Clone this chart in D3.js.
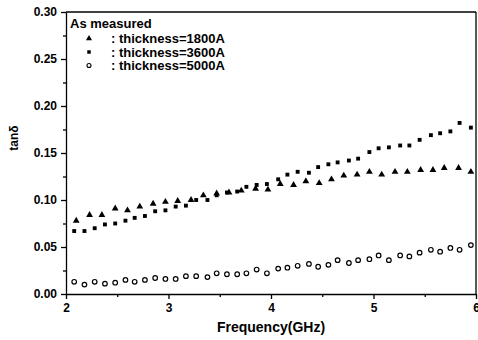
<!DOCTYPE html>
<html>
<head>
<meta charset="UTF-8" />
<style>
  body { margin: 0; background: #fff; }
  svg { font-family: "Liberation Sans", Arial, sans-serif; font-weight: bold; }
  .axis path, .axis line { stroke: #000; stroke-width: 1.3px; }
  .axis text { font-size: 12px; font-weight: bold; fill: #000; }
</style>
</head>
<body>
<svg id="chart" width="478" height="340"></svg>
<script src="https://d3js.org/d3.v7.min.js"></script>
<script>
  // thickness = 1800A (triangles)
  const freq1800 = [2.10, 2.23, 2.35, 2.48, 2.60, 2.72, 2.85, 2.97, 3.09, 3.22, 3.34, 3.47, 3.59, 3.71, 3.85, 3.97,
                    4.09, 4.22, 4.34, 4.47, 4.59, 4.71, 4.84, 4.96, 5.08, 5.21, 5.33, 5.46, 5.58, 5.69, 5.83, 5.95];
  const tan1800 = [0.078, 0.084, 0.084, 0.091, 0.089, 0.093, 0.096, 0.098, 0.099, 0.100, 0.105, 0.107, 0.108, 0.110, 0.112, 0.111,
                   0.117, 0.116, 0.120, 0.118, 0.122, 0.126, 0.127, 0.130, 0.127, 0.130, 0.130, 0.132, 0.132, 0.134, 0.134, 0.130];

  // thickness = 3600A (squares) and 5000A (circles), same frequencies
  const freq = [2.08, 2.18, 2.28, 2.38, 2.48, 2.58, 2.67, 2.77, 2.87, 2.97, 3.07, 3.17, 3.27, 3.38, 3.47, 3.57, 3.67, 3.76, 3.86, 3.96,
                4.07, 4.16, 4.26, 4.37, 4.46, 4.56, 4.65, 4.76, 4.85, 4.96, 5.05, 5.15, 5.26, 5.35, 5.45, 5.56, 5.65, 5.75, 5.84, 5.95];
  const tan3600 = [0.067, 0.067, 0.070, 0.074, 0.075, 0.078, 0.081, 0.083, 0.088, 0.089, 0.093, 0.094, 0.100, 0.100, 0.105, 0.108,
                   0.109, 0.114, 0.116, 0.117, 0.122, 0.127, 0.130, 0.129, 0.135, 0.138, 0.140, 0.142, 0.144, 0.151, 0.155, 0.156,
                   0.158, 0.158, 0.164, 0.169, 0.171, 0.173, 0.182, 0.177];
  const tan5000 = [0.013, 0.010, 0.013, 0.011, 0.012, 0.015, 0.013, 0.015, 0.017, 0.016, 0.016, 0.019, 0.019, 0.018, 0.022, 0.021,
                   0.021, 0.022, 0.026, 0.022, 0.027, 0.028, 0.030, 0.032, 0.029, 0.031, 0.036, 0.033, 0.036, 0.037, 0.041, 0.036,
                   0.041, 0.040, 0.044, 0.047, 0.045, 0.049, 0.047, 0.052];

  const xTicks = [2, 3, 4, 5, 6];
  const yTicks = [0.00, 0.05, 0.10, 0.15, 0.20, 0.25, 0.30];
  const legendTitle = "As measured";
  const legendLabels = [": thickness=1800A", ": thickness=3600A", ": thickness=5000A"];

  const svg = d3.select("#chart");
  const mLeft = 66, mRight = 476, mTop = 12, mBottom = 294;

  const x = d3.scaleLinear().domain([2, 6]).range([mLeft, mRight]);
  const y = d3.scaleLinear().domain([0, 0.30]).range([mBottom, mTop]);

  // minor ticks
  svg.append("g").attr("class", "axis")
    .attr("transform", `translate(0,${mBottom})`)
    .call(d3.axisBottom(x).tickValues(d3.range(2.5, 6, 1)).tickSize(3).tickFormat(""))
    .select(".domain").remove();
  svg.append("g").attr("class", "axis")
    .attr("transform", `translate(${mLeft},0)`)
    .call(d3.axisLeft(y).tickValues(d3.range(0.025, 0.30, 0.05)).tickSize(3).tickFormat(""))
    .select(".domain").remove();

  // major axes
  svg.append("g").attr("class", "axis")
    .attr("transform", `translate(0,${mBottom})`)
    .call(d3.axisBottom(x).tickValues(xTicks).tickSize(5).tickSizeOuter(0).tickPadding(4).tickFormat(d3.format("d")));
  svg.append("g").attr("class", "axis")
    .attr("transform", `translate(${mLeft},0)`)
    .call(d3.axisLeft(y).tickValues(yTicks).tickSize(5).tickSizeOuter(0).tickPadding(4).tickFormat(d3.format(".2f")));

  // frame top and right
  svg.append("line").attr("x1", mLeft).attr("x2", mRight).attr("y1", mTop).attr("y2", mTop)
    .attr("stroke", "#000").attr("stroke-width", 1.3);
  svg.append("line").attr("x1", mRight).attr("x2", mRight).attr("y1", mTop).attr("y2", mBottom)
    .attr("stroke", "#000").attr("stroke-width", 1.3);

  // axis titles
  svg.append("text").attr("x", (mLeft + mRight) / 2).attr("y", 332)
    .attr("text-anchor", "middle").attr("font-size", 14).text("Frequency(GHz)");
  svg.append("text").attr("transform", "translate(18,138) rotate(-90)")
    .attr("text-anchor", "middle").attr("font-size", 12).text("tanδ");

  const tri = d3.symbol().type(d3.symbolTriangle).size(20);
  const sq = d3.symbol().type(d3.symbolSquare).size(15);

  svg.append("g").selectAll("path")
    .data(freq1800.map((f, i) => [f, tan1800[i]]))
    .join("path")
    .attr("d", tri)
    .attr("transform", d => `translate(${x(d[0])},${y(d[1])})`)
    .attr("fill", "#000");

  svg.append("g").selectAll("path")
    .data(freq.map((f, i) => [f, tan3600[i]]))
    .join("path")
    .attr("d", sq)
    .attr("transform", d => `translate(${x(d[0])},${y(d[1])})`)
    .attr("fill", "#000");

  svg.append("g").selectAll("circle")
    .data(freq.map((f, i) => [f, tan5000[i]]))
    .join("circle")
    .attr("cx", d => x(d[0]))
    .attr("cy", d => y(d[1]))
    .attr("r", 2.3)
    .attr("fill", "none")
    .attr("stroke", "#000")
    .attr("stroke-width", 1.2);

  // legend
  const lg = svg.append("g");
  lg.append("text").attr("x", 70).attr("y", 28).attr("font-size", 13).text(legendTitle);
  legendLabels.forEach((t, i) => {
    const by = 43 + i * 13.5;
    lg.append("text").attr("x", 111).attr("y", by).attr("font-size", 13).text(t);
    if (i === 0) {
      lg.append("path").attr("d", d3.symbol().type(d3.symbolTriangle).size(16))
        .attr("transform", `translate(89,${by - 4.5})`).attr("fill", "#000");
    } else if (i === 1) {
      lg.append("path").attr("d", d3.symbol().type(d3.symbolSquare).size(12))
        .attr("transform", `translate(89,${by - 4.5})`).attr("fill", "#000");
    } else {
      lg.append("circle").attr("cx", 89).attr("cy", by - 4.5).attr("r", 2)
        .attr("fill", "none").attr("stroke", "#000").attr("stroke-width", 1.1);
    }
  });
</script>
</body>
</html>
